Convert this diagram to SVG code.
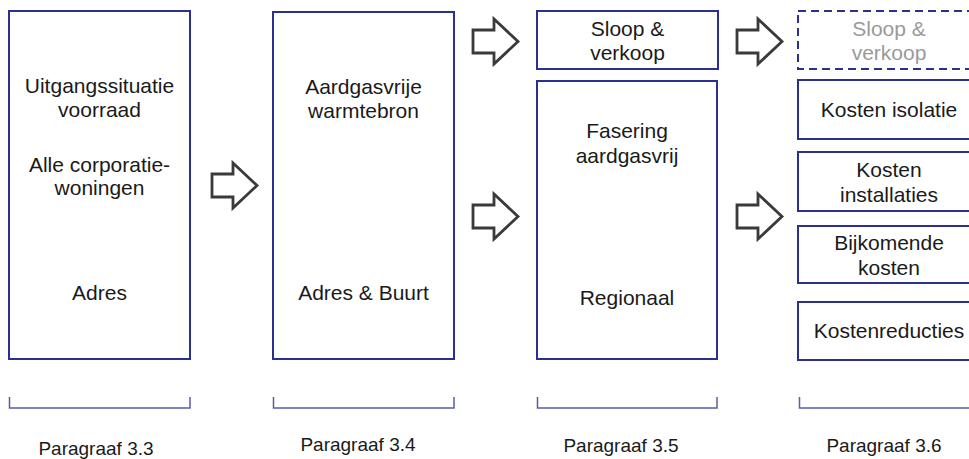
<svg xmlns="http://www.w3.org/2000/svg" width="969" height="459" viewBox="0 0 969 459">
<defs>
<style>
.box{fill:#fff;stroke:#2b2f8f;stroke-width:2}
.dash{fill:#fff;stroke:#2b2f8f;stroke-width:2;stroke-dasharray:8 5}
.t{font-family:"Liberation Sans",Arial,sans-serif;font-size:21px;fill:#1a1a1a;text-anchor:middle}
.g{fill:#9a9a9a}
.lbl{font-family:"Liberation Sans",Arial,sans-serif;font-size:19px;fill:#1a1a1a;text-anchor:middle}
.br{fill:none;stroke:#5a5ca8;stroke-width:1.5}
.arr{fill:#fff;stroke:#3a3a3a;stroke-width:2.8;stroke-linejoin:miter}
</style>
<path id="ar" d="M0,11 H21 V0 L45,22.5 L21,45 V34 H0 Z"/>
</defs>
<rect width="969" height="459" fill="#fff"/>
<g id="n1">
<rect class="box" x="9" y="11" width="181" height="348"/>
<text class="t" x="99.5" y="93">Uitgangssituatie</text>
<text class="t" x="99.5" y="117">voorraad</text>
<text class="t" x="99.5" y="172">Alle corporatie-</text>
<text class="t" x="99.5" y="195">woningen</text>
<text class="t" x="99.5" y="300">Adres</text>
</g>
<g id="n2">
<rect class="box" x="273" y="12" width="181" height="347"/>
<text class="t" x="363.5" y="94">Aardgasvrije</text>
<text class="t" x="363.5" y="118">warmtebron</text>
<text class="t" x="363.5" y="300">Adres &amp; Buurt</text>
</g>
<g id="n3">
<rect class="box" x="537" y="11" width="181" height="58"/>
<text class="t" x="627.5" y="36">Sloop &amp;</text>
<text class="t" x="627.5" y="60">verkoop</text>
</g>
<g id="n4">
<rect class="box" x="537" y="81" width="180" height="278"/>
<text class="t" x="627" y="138">Fasering</text>
<text class="t" x="627" y="163">aardgasvrij</text>
<text class="t" x="627" y="305">Regionaal</text>
</g>
<g id="n5">
<rect class="dash" x="798" y="11" width="182" height="58"/>
<text class="t g" x="889" y="36">Sloop &amp;</text>
<text class="t g" x="889" y="60">verkoop</text>
</g>
<g id="n6">
<rect class="box" x="798" y="80" width="182" height="59"/>
<text class="t" x="889" y="117">Kosten isolatie</text>
</g>
<g id="n7">
<rect class="box" x="798" y="152" width="182" height="59"/>
<text class="t" x="889" y="177">Kosten</text>
<text class="t" x="889" y="202">installaties</text>
</g>
<g id="n8">
<rect class="box" x="798" y="226" width="182" height="57"/>
<text class="t" x="889" y="250">Bijkomende</text>
<text class="t" x="889" y="275">kosten</text>
</g>
<g id="n9">
<rect class="box" x="798" y="302" width="182" height="58"/>
<text class="t" x="889" y="338">Kostenreducties</text>
</g>
<g id="connectors">
<use href="#ar" class="arr" x="212" y="163"/>
<use href="#ar" class="arr" x="473" y="19"/>
<use href="#ar" class="arr" x="473" y="194"/>
<use href="#ar" class="arr" x="737" y="19"/>
<use href="#ar" class="arr" x="737" y="194"/>
</g>
<g id="brackets">
<path class="br" d="M9.5,397 V408 H190 V397"/>
<path class="br" d="M273.5,397 V408 H454 V397"/>
<path class="br" d="M537.5,397 V408 H717 V397"/>
<path class="br" d="M799.5,397 V408 H980"/>
</g>
<g id="labels">
<text class="lbl" x="96" y="455">Paragraaf 3.3</text>
<text class="lbl" x="358" y="451">Paragraaf 3.4</text>
<text class="lbl" x="621" y="452">Paragraaf 3.5</text>
<text class="lbl" x="884" y="452">Paragraaf 3.6</text>
</g>
</svg>
